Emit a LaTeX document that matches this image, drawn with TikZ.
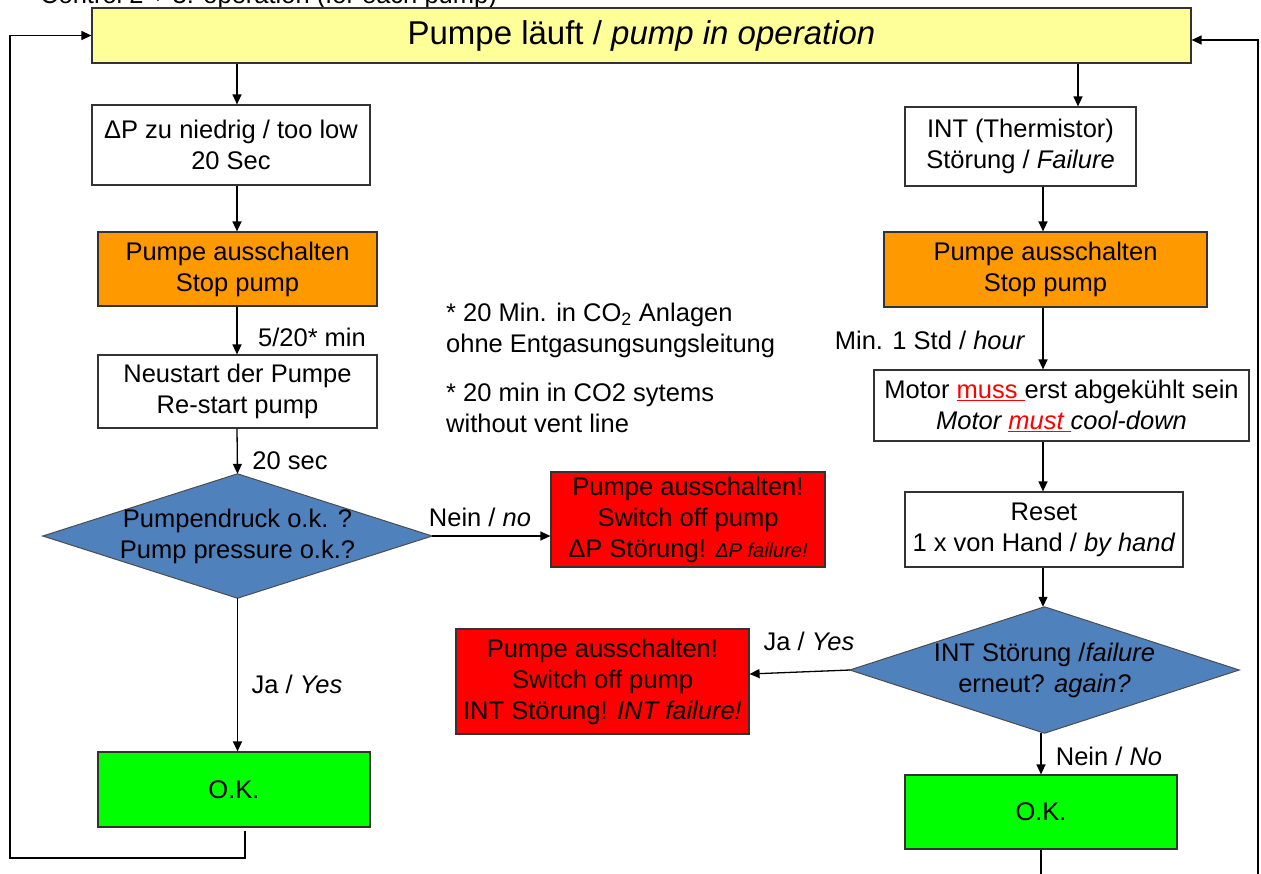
\documentclass[tikz,border=0pt]{standalone}
\usepackage{fontspec}
\setmainfont{Liberation Sans}
\usetikzlibrary{arrows.meta,calc}
\pgfdeclarelayer{bg}
\pgfsetlayers{bg,main}
\definecolor{yellowc}{HTML}{FFFF99}
\definecolor{orangec}{HTML}{FF9900}
\definecolor{redc}{HTML}{FF0000}
\definecolor{greenc}{HTML}{00FF00}
\definecolor{bluec}{HTML}{4F81BD}
\begin{document}
\begin{tikzpicture}[x=1pt,y=-1pt,
  every node/.style={font=\fontsize{25.5}{31}\selectfont, inner sep=0pt},
  box/.style={draw=black!80, line width=1.2pt, align=center},
  dia/.style={align=center},
  diafill/.style={fill=bluec, draw=black!70, line width=1pt},
  arr/.style={-{Triangle[length=10pt,width=9pt]}, line width=1.3pt},
  wire/.style={line width=1.3pt},
  lbl/.style={align=center},
  note/.style={anchor=west, align=left}
]
\useasboundingbox (0,0) rectangle (1261,873);

% title (partly cut off)
\node[anchor=base west] (title) at (40,3.5) {Control 2 + 3: operation (for each pump)};

% top box
\node[box, fill=yellowc, minimum width=1099pt, minimum height=55pt,
      font=\fontsize{33}{38}\selectfont] (top) at (641.5,35.5)
      {Pumpe läuft / \textit{pump in operation}};

\coordinate (xl) at (237,0);
\coordinate (xr) at (1043,0);
\coordinate (xt) at (1078,0);

% left column
\node[box, fill=white, minimum width=278pt, minimum height=80pt] (b1) at (231,145)
  {ΔP zu niedrig / too low\\20 Sec};
\node[box, fill=orangec, minimum width=279pt, minimum height=74pt] (o1) at (237.5,269)
  {Pumpe ausschalten\\Stop pump};
\node[box, fill=white, minimum width=279pt, minimum height=73pt] (r1) at (237.5,391.5)
  {Neustart der Pumpe\\Re-start pump};
\node[dia, minimum width=389pt, minimum height=124pt] (d1) at (237.5,536)
  {Pumpendruck o.k. ?\\Pump pressure o.k.?};
\node[box, fill=redc, minimum width=274pt, minimum height=95pt] (e1) at (688,519.5)
  {Pumpe ausschalten!\\Switch off pump\\ΔP Störung! {\fontsize{20}{24}\selectfont\itshape ΔP failure!}};
\node[box, fill=greenc, minimum width=272pt, minimum height=75pt] (ok1) at (234,789.5)
  {O.K.};

% right column
\node[box, fill=white, minimum width=231pt, minimum height=79pt] (int) at (1020.5,146.5)
  {INT (Thermistor)\\Störung / \textit{Failure}};
\node[box, fill=orangec, minimum width=323pt, minimum height=75pt] (o2) at (1045.5,269.5)
  {Pumpe ausschalten\\Stop pump};
\node[box, fill=white, minimum width=375pt, minimum height=71pt] (mot) at (1061.5,405.5)
  {Motor \textcolor{red}{\underline{muss\ }}erst abgekühlt sein\\
   \textit{Motor \textcolor{red}{\underline{must\ }}cool-down}};
\node[box, fill=white, minimum width=278pt, minimum height=75pt] (rst) at (1044,529.5)
  {Reset\\1 x von Hand / \textit{by hand}};
\node[dia, minimum width=389pt, minimum height=126pt] (d2) at (1044.5,670)
  {INT Störung /\textit{failure}\\erneut? \textit{again?}};
\node[box, fill=redc, minimum width=293pt, minimum height=105pt] (e2) at (602.5,681.5)
  {Pumpe ausschalten!\\Switch off pump\\INT Störung! \textit{INT failure!}};
\node[box, fill=greenc, minimum width=272pt, minimum height=74pt] (ok2) at (1041,812)
  {O.K.};

% diamonds background
\begin{pgfonlayer}{bg}
  \path[diafill] (d1.north) -- (d1.east) -- (d1.south) -- (d1.west) -- cycle;
  \path[diafill] (d2.north) -- (d2.east) -- (d2.south) -- (d2.west) -- cycle;
\end{pgfonlayer}

% notes
\node[note] (n1) at (446,330.5) {* 20 Min. in CO\textsubscript{2} Anlagen\\ohne Entgasungsungsleitung};
\node[note] (n2) at (446,407.5) {* 20 min in CO2 sytems\\without vent line};

% labels
\node[lbl] (l1) at (312,337) {5/20* min};
\node[lbl] (l2) at (290,461) {20 sec};
\node[lbl] (l3) at (480,517) {Nein / \textit{no}};
\node[lbl] (l4) at (297,684) {Ja / \textit{Yes}};
\node[lbl] (l5) at (930,340) {Min. 1 Std / \textit{hour}};
\node[lbl] (l6) at (809,641) {Ja / \textit{Yes}};
\node[lbl] (l7) at (1109,756) {Nein / \textit{No}};

% left connectors
\draw[arr] (top.south -| xl) -- (b1.north -| xl);
\draw[arr] (b1.south -| xl) -- (o1.north -| xl);
\draw[arr] (o1.south -| xl) -- (r1.north -| xl);
\draw[arr] (r1.south -| xl) -- (d1.north);
\draw[arr] (d1.east) -- (e1.west |- d1.east);
\draw[arr] (d1.south) -- (ok1.north -| d1.south);
\coordinate (ll) at (10,858);
\draw[arr] ($(ok1.south)+(11,3)$) |- (ll) |- (top.west);

% right connectors
\draw[arr] (top.south -| xt) -- (int.north -| xt);
\draw[arr] (int.south -| xr) -- (o2.north -| xr);
\draw[arr] (o2.south -| xr) -- (mot.north -| xr);
\draw[arr] (mot.south -| xr) -- (rst.north -| xr);
\draw[arr] (rst.south -| xr) -- (d2.north -| xr);
\draw[arr] (d2.west) -- ($(e2.east)+(0,-7.5)$);
\draw[arr] (d2.south -| ok2.north) -- (ok2.north);
\coordinate (rb) at (1258,890);
\coordinate (rt) at (1258,40);
\draw[arr] (ok2.south) |- (rb) -- (rt) -- (top.east |- rt);
\end{tikzpicture}
\end{document}
